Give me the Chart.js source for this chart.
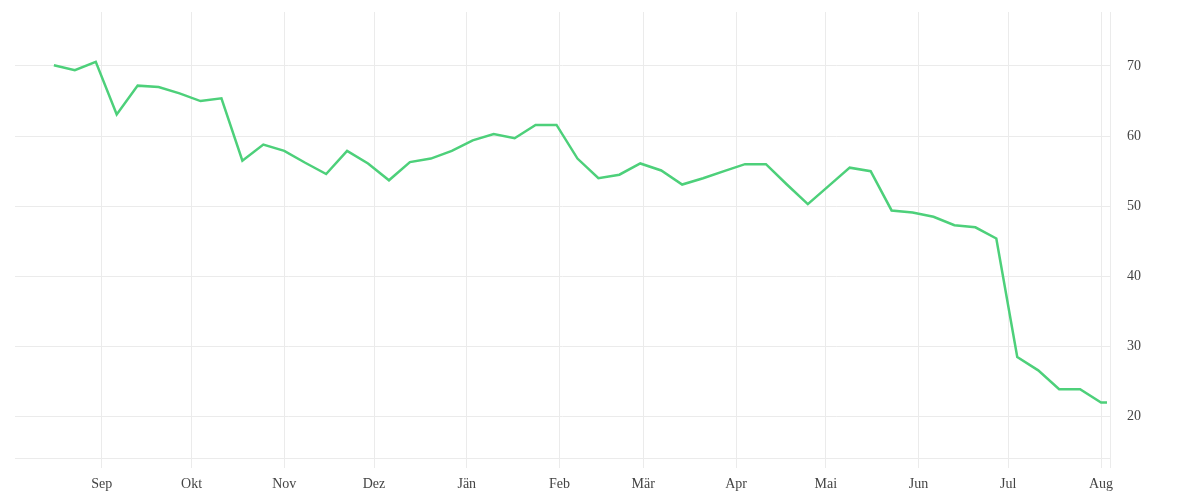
<!DOCTYPE html>
<html>
<head>
<meta charset="utf-8">
<script src="https://cdn.jsdelivr.net/npm/chart.js@4/dist/chart.umd.min.js"></script>
<style>
  html, body { margin: 0; padding: 0; background: #fff; }
  #wrap { width: 1200px; height: 500px; }
</style>
</head>
<body>
<div id="wrap"><canvas id="chart"></canvas></div>
<script>
// weekly dates and values
var dates = [
  '2022-08-16','2022-08-23','2022-08-30','2022-09-06','2022-09-13','2022-09-20','2022-09-27',
  '2022-10-04','2022-10-11','2022-10-18','2022-10-25','2022-11-01','2022-11-08','2022-11-15',
  '2022-11-22','2022-11-29','2022-12-06','2022-12-13','2022-12-20','2022-12-27','2023-01-03',
  '2023-01-10','2023-01-17','2023-01-24','2023-01-31','2023-02-07','2023-02-14','2023-02-21',
  '2023-02-28','2023-03-07','2023-03-14','2023-03-21','2023-03-28','2023-04-04','2023-04-11',
  '2023-04-18','2023-04-25','2023-05-02','2023-05-09','2023-05-16','2023-05-23','2023-05-30',
  '2023-06-06','2023-06-13','2023-06-20','2023-06-27','2023-07-04','2023-07-11','2023-07-18',
  '2023-07-25','2023-08-01','2023-08-03'
];
var values = [
  70.1, 69.4, 70.6, 63.1, 67.2, 67.0, 66.1,
  65.0, 65.4, 56.5, 58.8, 57.9, 56.2, 54.6,
  57.9, 56.1, 53.7, 56.3, 56.8, 57.9, 59.4,
  60.3, 59.7, 61.6, 61.6, 56.8, 54.0, 54.5,
  56.1, 55.1, 53.1, 54.0, 55.0, 56.0, 56.0,
  53.1, 50.3, 52.9, 55.5, 55.0, 49.4, 49.1,
  48.5, 47.3, 47.0, 45.4, 28.5, 26.6, 23.9,
  23.9, 22.0, 22.0
];

// axis ticks
var monthDates = ['2022-09-01','2022-10-01','2022-11-01','2022-12-01','2023-01-01','2023-02-01',
                  '2023-03-01','2023-04-01','2023-05-01','2023-06-01','2023-07-01','2023-08-01'];
var monthLabels = ['Sep','Okt','Nov','Dez','Jän','Feb','Mär','Apr','Mai','Jun','Jul','Aug'];
var yTicks = [20, 30, 40, 50, 60, 70];
var xStart = '2022-08-03', xEnd = '2023-08-04';
var yMin = 14.1, yMax = 77.7;

function day(s) {
  var p = s.split('-');
  return Date.UTC(+p[0], +p[1] - 1, +p[2]) / 86400000;
}

function noPad(s) {
  s.paddingTop = 0; s.paddingBottom = 0; s.paddingLeft = 0; s.paddingRight = 0;
}

var gridColor = '#ebebeb';
var font = { family: '"Liberation Serif", "DejaVu Serif", serif', size: 14 };

new Chart(document.getElementById('chart'), {
  type: 'line',
  data: {
    datasets: [{
      data: dates.map(function (d, i) { return { x: day(d), y: values[i] }; }),
      borderColor: '#4dd07a',
      borderWidth: 2.5,
      pointRadius: 0,
      tension: 0,
      fill: false
    }]
  },
  options: {
    responsive: true,
    maintainAspectRatio: false,
    animation: false,
    layout: { padding: { top: 12, left: 15, right: 0, bottom: 0 } },
    plugins: { legend: { display: false }, tooltip: { enabled: false } },
    scales: {
      x: {
        type: 'linear',
        min: day(xStart),
        max: day(xEnd),
        afterBuildTicks: function (s) {
          s.ticks = monthDates.map(function (d) { return { value: day(d) }; });
          s.ticks.push({ value: day(xEnd) });
        },
        afterFit: function (s) { s.height = 42; noPad(s); },
        grid: { color: gridColor, tickLength: 10, tickColor: gridColor },
        border: { display: true, color: gridColor },
        ticks: {
          autoSkip: false,
          maxRotation: 0,
          padding: 8,
          color: '#444',
          font: font,
          callback: function (v, i) { return monthLabels[i] || ''; }
        }
      },
      y: {
        position: 'right',
        min: yMin,
        max: yMax,
        afterBuildTicks: function (s) {
          s.ticks = yTicks.map(function (v) { return { value: v }; });
        },
        afterFit: function (s) { s.width = 90; noPad(s); },
        grid: { color: gridColor, drawTicks: false },
        border: { display: false },
        ticks: { padding: 17, color: '#444', font: font }
      }
    }
  }
});
</script>
</body>
</html>
